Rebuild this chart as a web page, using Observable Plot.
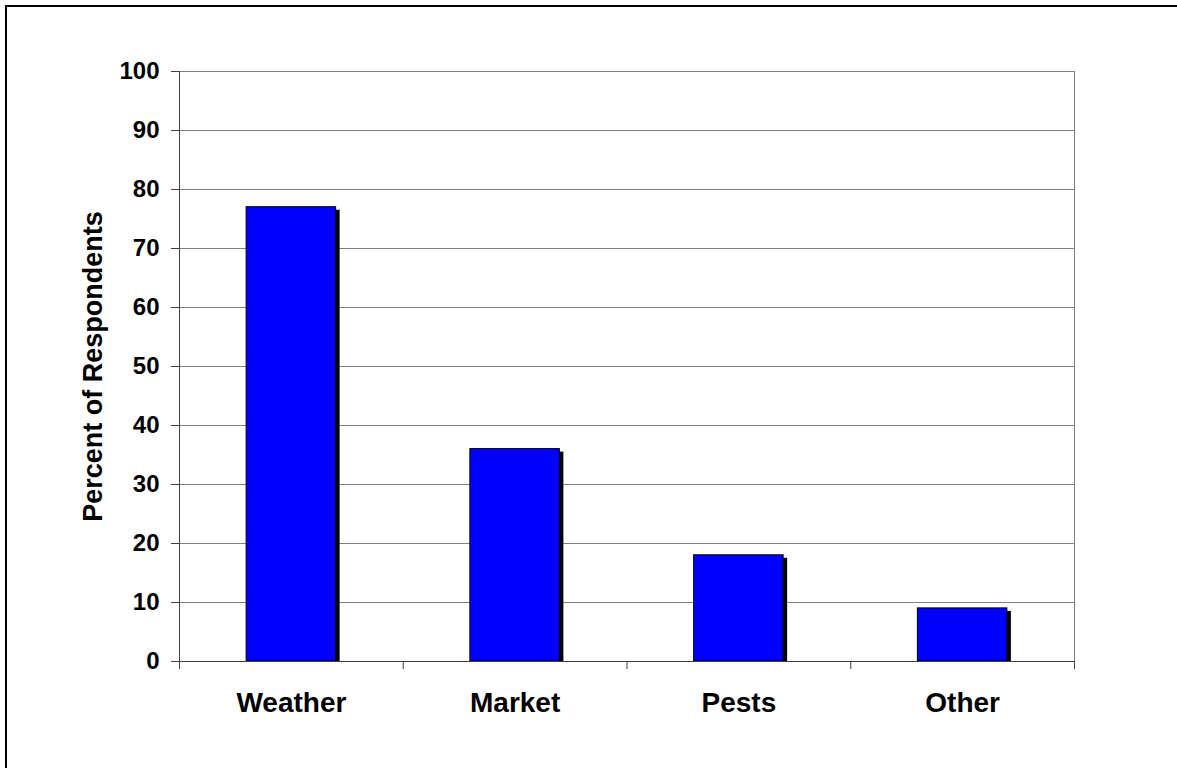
<!DOCTYPE html>
<html>
<head>
<meta charset="utf-8">
<script src="https://cdn.jsdelivr.net/npm/d3@7"></script>
<script src="https://cdn.jsdelivr.net/npm/@observablehq/plot@0.6"></script>
<style>
  html, body { margin: 0; background: #fff; overflow: hidden; }
  #chart { position: relative; width: 1177px; height: 768px; overflow: hidden; }
  #chart svg { position: absolute; left: 0; top: 0; }
  /* page edge: a line along the top and one down the left side */
  #chart .edge-top { position: absolute; left: 5px; top: 5px; width: 1172px; height: 2px; background: #000; }
  #chart .edge-left { position: absolute; left: 5px; top: 5px; width: 2px; height: 763px; background: #000; }
</style>
</head>
<body>
<div id="chart"></div>
<script>
// Survey results: share of respondents naming each source of risk
const categories = ["Weather", "Market", "Pests", "Other"];
const percents = [77, 36, 18, 9];
const yTicks = [0, 10, 20, 30, 40, 50, 60, 70, 80, 90, 100];
const yTitle = "Percent of Respondents";

// Each category occupies one unit slot on a linear x scale; bars fill the middle 40%
const bars = categories.map((category, i) => ({ category, slot: i, percent: percents[i] }));
const slotEdges = categories.map((_, i) => i).concat(categories.length);
const slotCenters = categories.map((_, i) => i + 0.5);

const gridColor = "#808080";
const axisColor = "#404040";

const chart = Plot.plot({
  width: 1177,
  height: 768,
  marginLeft: 179,
  marginRight: 103,
  marginTop: 71,
  marginBottom: 107,
  style: {
    fontFamily: "'Liberation Sans', Arial, sans-serif",
    fontWeight: "bold",
    fontSize: "24px",
    color: "#000",
    background: "#fff"
  },
  x: { domain: [0, categories.length], axis: null },
  y: { domain: [0, 100], axis: null },
  marks: [
    // horizontal gridlines and right edge of the plot area
    Plot.gridY({ ticks: yTicks.filter(v => v > 0), stroke: gridColor, strokeOpacity: 1 }),
    Plot.ruleX([categories.length], { stroke: gridColor }),

    // drop shadow behind each bar
    Plot.rectY(bars, {
      x1: d => d.slot + 0.3,
      x2: d => d.slot + 0.7,
      y: "percent",
      fill: "#000",
      dx: 4,
      dy: 3,
      insetBottom: 3
    }),
    // bars
    Plot.rectY(bars, {
      x1: d => d.slot + 0.3,
      x2: d => d.slot + 0.7,
      y: "percent",
      fill: "#0000ff",
      stroke: "#000",
      strokeWidth: 1
    }),

    // axis lines
    Plot.ruleY([0], { stroke: axisColor }),
    Plot.ruleX([0], { stroke: axisColor }),

    // y axis ticks and labels
    Plot.axisY({
      ticks: yTicks,
      tickSize: 8,
      tickPadding: 12,
      stroke: axisColor,
      strokeOpacity: 1,
      fontSize: 24,
      fontWeight: "bold",
      label: null
    }),

    // category boundary ticks below the x axis
    Plot.axisX({
      ticks: slotEdges,
      tickSize: 8,
      stroke: axisColor,
      strokeOpacity: 1,
      tickFormat: () => "",
      label: null
    }),
    // category names
    Plot.axisX({
      ticks: slotCenters,
      tickSize: 0,
      tickPadding: 31,
      fontSize: 28,
      fontWeight: "bold",
      tickFormat: d => categories[Math.floor(d)],
      label: null
    }),

    // y axis title
    Plot.text([yTitle], {
      frameAnchor: "left",
      text: d => d,
      rotate: -90,
      dx: -86,
      lineAnchor: "middle",
      textAnchor: "middle",
      fontSize: 27,
      fontWeight: "bold",
      fill: "#000"
    })
  ]
});

const host = document.getElementById("chart");
host.appendChild(chart);
for (const side of ["edge-top", "edge-left"]) {
  const line = document.createElement("div");
  line.className = side;
  host.appendChild(line);
}
</script>
</body>
</html>
